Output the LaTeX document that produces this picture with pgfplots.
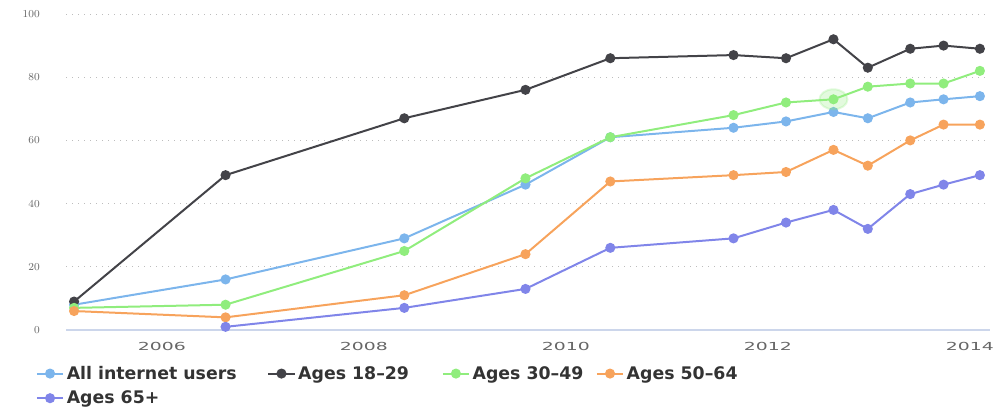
\documentclass[border=0pt]{standalone}
\usepackage{pgfplots}
\pgfplotsset{compat=1.18}
\usepackage{fontspec}
\setmainfont{DejaVu Sans}
\newfontfamily\tickfont[FakeStretch=1.7]{DejaVu Sans}
\definecolor{cblue}{HTML}{7CB5EC}
\definecolor{cblack}{HTML}{434348}
\definecolor{cgreen}{HTML}{90ED7D}
\definecolor{corange}{HTML}{F7A35C}
\definecolor{cpurple}{HTML}{8085E9}
\definecolor{caxis}{HTML}{CCD6EB}
\definecolor{cgrid}{HTML}{BDBDBD}
\definecolor{clabel}{HTML}{666666}
\definecolor{clegend}{HTML}{333333}
\begin{document}
\begin{tikzpicture}
\useasboundingbox (-49.5pt,-59.25pt) rectangle (704.25pt,247.5pt);
\begin{axis}[
  at={(0,0)}, anchor=south west,
  scale only axis, width=693pt, height=237pt,
  xmin=2005.05, xmax=2014.2, ymin=0, ymax=100,
  xtick={2006,2008,2010,2012,2014},
  xticklabels={2006,2008,2010,2012,2014},
  ytick={20,40,60,80,100},
  extra y ticks={0},
  extra y tick style={grid style={solid, draw=caxis, line width=1.1pt, dash pattern=}},
  ymajorgrids,
  grid style={draw=cgrid, line width=0.7pt, dash pattern=on 0.7pt off 3.8pt},
  axis line style={draw=none},
  tick style={draw=none},
  tick label style={font=\tickfont\fontsize{8.3}{9}\selectfont, text=clabel},
  yticklabel style={anchor=east, inner sep=0pt},
  yticklabel shift=19.5pt,
  xticklabel style={anchor=north, inner sep=0pt, yshift=-9pt},
  legend columns=4,
  legend cell align=left,
  legend style={draw=none, fill=none, inner sep=0pt, outer sep=0pt,
    at={(0,0)}, anchor=north west, xshift=-22.5pt, yshift=-25.5pt,
    font=\bfseries\fontsize{13}{15}\selectfont, text=clegend,
    nodes={inner xsep=2pt, inner ysep=1.5pt}, row sep=4.2pt, column sep=0pt},
  legend image code/.code={\draw[#1, mark repeat=2, mark phase=2] plot coordinates {(0cm,0cm) (0.344cm,0cm) (0.688cm,0cm)};},
  every axis plot/.append style={line width=1.5pt, mark=*, mark size=3pt, mark options={xscale=1.4, solid}},
]
\addplot[cblue, mark options={fill=cblue, draw=cblue}] coordinates {
(2005.13,8) (2006.63,16) (2008.40,29) (2009.60,46) (2010.44,61) (2011.66,64)
(2012.18,66) (2012.65,69) (2012.99,67) (2013.41,72) (2013.74,73) (2014.10,74)};
\addlegendentry{\makebox[148.5pt][l]{All internet users}}
\addplot[cblack, mark options={fill=cblack, draw=cblack}] coordinates {
(2005.13,9) (2006.63,49) (2008.40,67) (2009.60,76) (2010.44,86) (2011.66,87)
(2012.18,86) (2012.65,92) (2012.99,83) (2013.41,89) (2013.74,90) (2014.10,89)};
\addlegendentry{\makebox[105.75pt][l]{Ages 18–29}}
\addplot[forget plot, only marks, draw=none, fill=cgreen, color=cgreen, opacity=0.25, mark=*, mark size=7.5pt, mark options={xscale=1.4, fill=cgreen, draw=none}] coordinates {(2012.65,73)};
\addplot[cgreen, mark options={fill=cgreen, draw=cgreen}] coordinates {
(2005.13,7) (2006.63,8) (2008.40,25) (2009.60,48) (2010.44,61) (2011.66,68)
(2012.18,72) (2012.65,73) (2012.99,77) (2013.41,78) (2013.74,78) (2014.10,82)};
\addlegendentry{\makebox[90.5pt][l]{Ages 30–49}}
\addplot[corange, mark options={fill=corange, draw=corange}] coordinates {
(2005.13,6) (2006.63,4) (2008.40,11) (2009.60,24) (2010.44,47) (2011.66,49)
(2012.18,50) (2012.65,57) (2012.99,52) (2013.41,60) (2013.74,65) (2014.10,65)};
\addlegendentry{Ages 50–64}
\addplot[cpurple, mark options={fill=cpurple, draw=cpurple}] coordinates {
(2006.63,1) (2008.40,7) (2009.60,13) (2010.44,26) (2011.66,29)
(2012.18,34) (2012.65,38) (2012.99,32) (2013.41,43) (2013.74,46) (2014.10,49)};
\addlegendentry{Ages 65+}
\end{axis}
\end{tikzpicture}
\end{document}
